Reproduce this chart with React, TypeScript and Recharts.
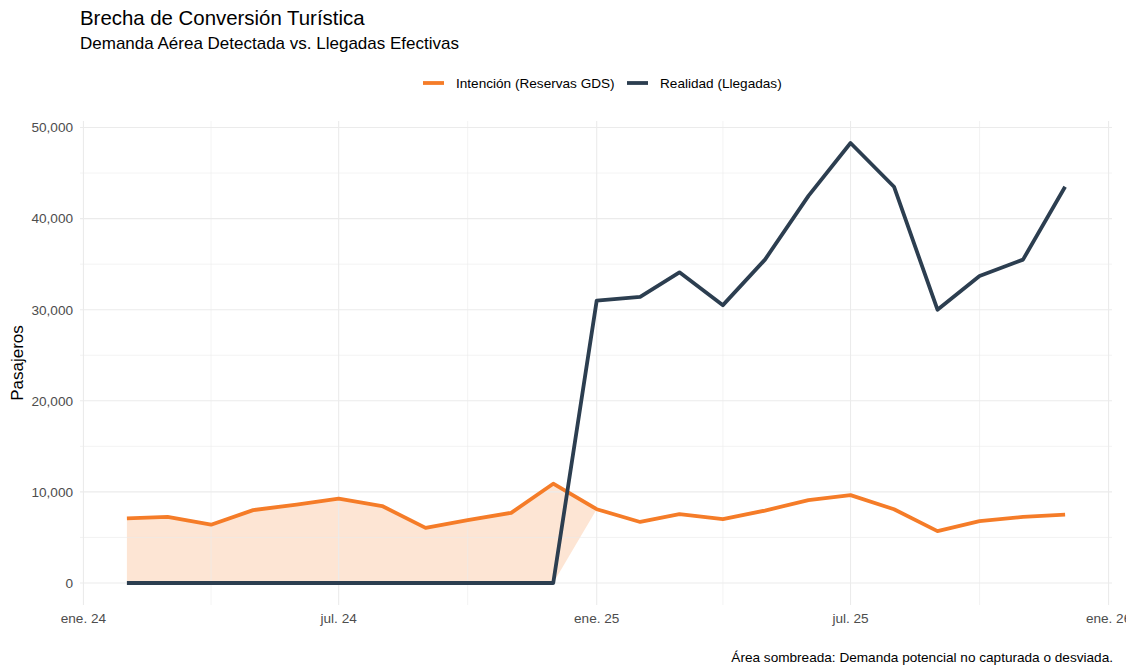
import React from 'react';
import { ComposedChart, Line, Area, XAxis, YAxis, ReferenceLine } from 'recharts';

const months = [
  '2024-02', '2024-03', '2024-04', '2024-05', '2024-06', '2024-07', '2024-08', '2024-09', '2024-10', '2024-11', '2024-12',
  '2025-01', '2025-02', '2025-03', '2025-04', '2025-05', '2025-06', '2025-07', '2025-08', '2025-09', '2025-10', '2025-11', '2025-12',
];
const intencion = [7100, 7250, 6400, 8000, 8600, 9250, 8450, 6050, 6900, 7700, 10900, 8100, 6700, 7550, 7000, 7950, 9100, 9650, 8100, 5700, 6800, 7250, 7500];
const realidad = [0, 0, 0, 0, 0, 0, 0, 0, 0, 0, 0, 31000, 31400, 34100, 30500, 35500, 42500, 48300, 43500, 30000, 33700, 35500, 43500];

const majorXTicks = ['2024-01', '2024-07', '2025-01', '2025-07', '2026-01'];
const minorXTicks = ['2024-04', '2024-10', '2025-04', '2025-10'];
const majorYTicks = [0, 10000, 20000, 30000, 40000, 50000];
const minorYTicks = [5000, 15000, 25000, 35000, 45000];
const monthAbbr = ['ene.', 'feb.', 'mar.', 'abr.', 'may.', 'jun.', 'jul.', 'ago.', 'sept.', 'oct.', 'nov.', 'dic.'];

const ORANGE = '#F57C28';
const DARK = '#2C3E50';
const GRID = '#EBEBEB';
const FONT = '"Liberation Sans", Arial, Helvetica, sans-serif';

const toTs = (m: string) => {
  const [y, mo] = m.split('-').map(Number);
  return Date.UTC(y, mo - 1, 1);
};

const data = months.map((m, i) => ({
  t: toTs(m),
  intencion: intencion[i],
  realidad: realidad[i],
  gap: [Math.min(intencion[i], realidad[i]), intencion[i]],
}));

const tMin = Math.min(...data.map((d) => d.t));
const tMax = Math.max(...data.map((d) => d.t));
const tPad = (tMax - tMin) * 0.05;
const allVals = [...intencion, ...realidad];
const yMin = Math.min(...allVals);
const yMax = Math.max(...allVals);
const yPad = (yMax - yMin) * 0.05;

const fmtX = (v: number) => {
  const d = new Date(v);
  return `${monthAbbr[d.getUTCMonth()]} ${String(d.getUTCFullYear()).slice(2)}`;
};
const fmtY = (v: number) => v.toLocaleString('en-US');

export default function App() {
  return (
    <div style={{ position: 'absolute', left: 0, top: 0, width: 1126, height: 666, background: '#fff', overflow: 'hidden' }}>
      <ComposedChart
        width={1126}
        height={666}
        data={data}
        margin={{ top: 121, right: 14, bottom: 31, left: 20 }}
      >
        {minorXTicks.map((m) => (
          <ReferenceLine key={'mx' + m} x={toTs(m)} stroke={GRID} strokeWidth={0.6} />
        ))}
        {minorYTicks.map((v) => (
          <ReferenceLine key={'my' + v} y={v} stroke={GRID} strokeWidth={0.6} />
        ))}
        {majorXTicks.map((m) => (
          <ReferenceLine key={'Mx' + m} x={toTs(m)} stroke={GRID} strokeWidth={1.1} />
        ))}
        {majorYTicks.map((v) => (
          <ReferenceLine key={'My' + v} y={v} stroke={GRID} strokeWidth={1.1} />
        ))}
        <XAxis
          dataKey="t"
          type="number"
          domain={[tMin - tPad, tMax + tPad]}
          allowDataOverflow
          ticks={majorXTicks.map(toTs)}
          tickFormatter={fmtX}
          axisLine={false}
          tickLine={false}
          tickSize={0}
          tickMargin={8}
          height={30}
          interval={0}
          tick={{ fill: '#4D4D4D', fontSize: 13.6, fontFamily: FONT }}
        />
        <YAxis
          type="number"
          domain={[yMin - yPad, yMax + yPad]}
          allowDataOverflow
          ticks={majorYTicks}
          tickFormatter={fmtY}
          axisLine={false}
          tickLine={false}
          tickSize={0}
          tickMargin={7}
          width={60}
          interval={0}
          tick={{ fill: '#4D4D4D', fontSize: 13.6, fontFamily: FONT }}
        />
        <Area
          type="linear"
          dataKey="gap"
          fill={ORANGE}
          fillOpacity={0.2}
          stroke="none"
          isAnimationActive={false}
          activeDot={false}
        />
        <Line
          type="linear"
          dataKey="intencion"
          stroke={ORANGE}
          strokeWidth={3.8}
          strokeLinejoin="round"
          dot={false}
          activeDot={false}
          isAnimationActive={false}
        />
        <Line
          type="linear"
          dataKey="realidad"
          stroke={DARK}
          strokeWidth={3.8}
          strokeLinejoin="round"
          dot={false}
          activeDot={false}
          isAnimationActive={false}
        />
      </ComposedChart>
      <svg
        width={1126}
        height={666}
        style={{ position: 'absolute', left: 0, top: 0, pointerEvents: 'none' }}
        fontFamily={FONT}
      >
        <text x={80} y={25} fontSize={20.4} fill="#000">Brecha de Conversión Turística</text>
        <text x={80} y={49} fontSize={17} fill="#000">Demanda Aérea Detectada vs. Llegadas Efectivas</text>
        <line x1={423} x2={444} y1={83} y2={83} stroke={ORANGE} strokeWidth={3.8} />
        <text x={456} y={88} fontSize={13.6} fill="#000">Intención (Reservas GDS)</text>
        <line x1={627} x2={648} y1={83} y2={83} stroke={DARK} strokeWidth={3.8} />
        <text x={660} y={88} fontSize={13.6} fill="#000">Realidad (Llegadas)</text>
        <text
          x={23}
          y={363}
          fontSize={17}
          fill="#000"
          textAnchor="middle"
          transform="rotate(-90 23 363)"
        >
          Pasajeros
        </text>
        <text x={1113} y={662} fontSize={13.6} fill="#000" textAnchor="end">
          Área sombreada: Demanda potencial no capturada o desviada.
        </text>
      </svg>
    </div>
  );
}
